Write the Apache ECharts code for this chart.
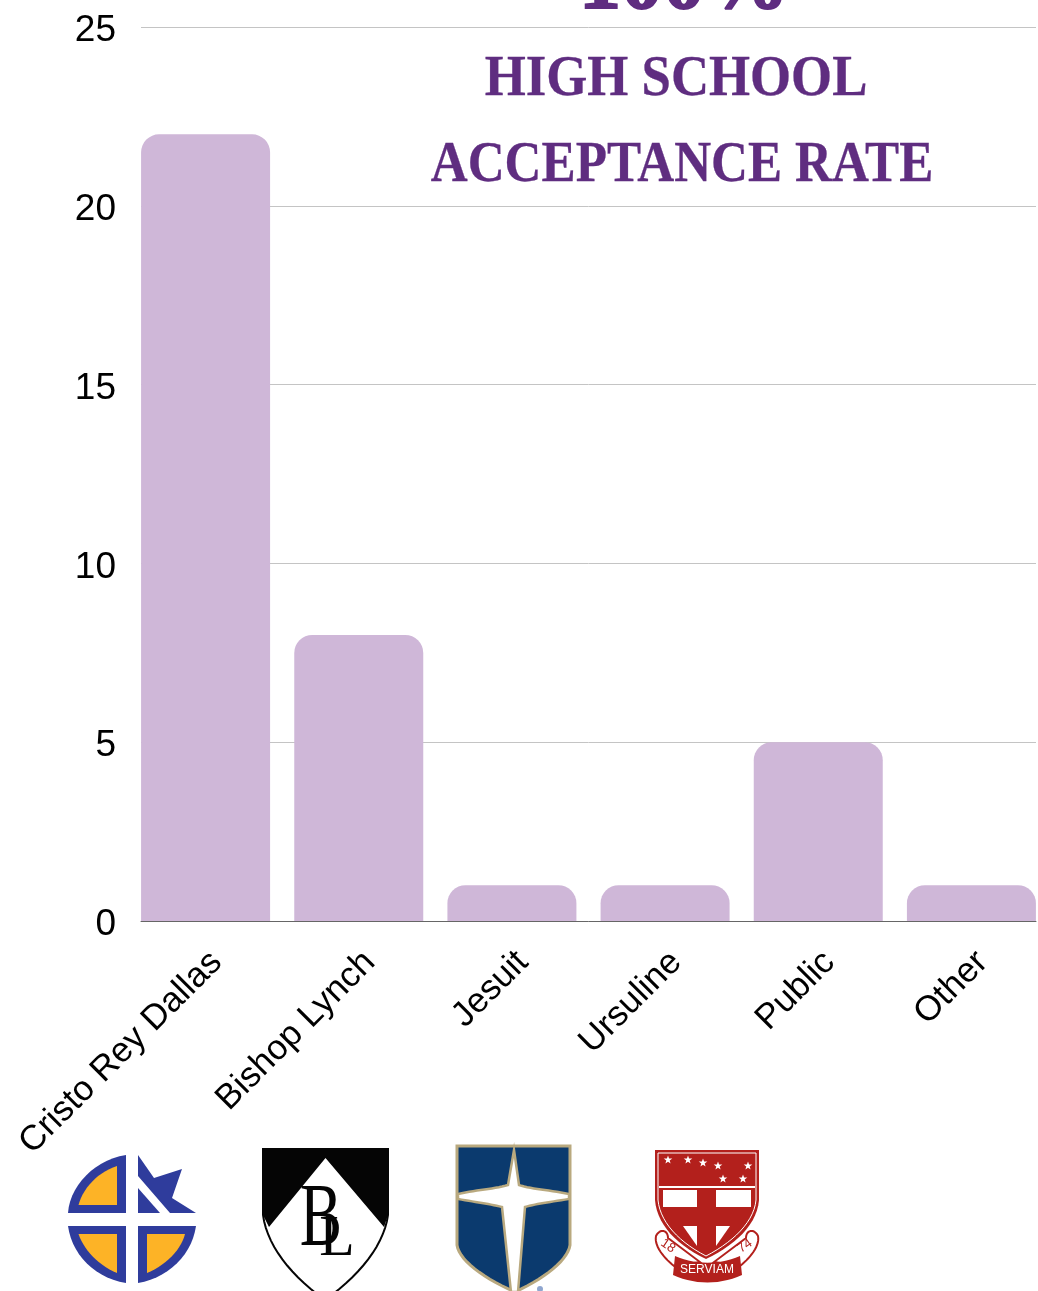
<!DOCTYPE html>
<html><head><meta charset="utf-8">
<style>html,body{margin:0;padding:0;background:#fff;overflow:hidden}#c{width:1080px;height:1291px}</style>
<script src="https://cdn.jsdelivr.net/npm/echarts@6/dist/echarts.min.js"></script>
</head><body><div id="c"></div>
<script>
const categories = ['Cristo Rey Dallas','Bishop Lynch','Jesuit','Ursuline','Public','Other'];
const students = [22,8,1,1,5,1];
const yMax = 25, yStep = 5;
const PURPLE = '#5f2d80', BLUE='#2f3c9c', GOLD='#fdb326', RED='#b3201c', NAVY='#0b3a6e', TAN='#b9a97f';

// Flattens a small M/L/C/Z outline to polygon points for the logo artwork.
function pts(d){
 const t=d.match(/[MLCZ]|-?[\d.]+/g); let i=0,out=[],cur=[0,0],cmd='';
 while(i<t.length){
  if(/[MLCZ]/.test(t[i])) cmd=t[i++];
  if(cmd==='Z') continue;
  if(cmd==='C'){
   const a=[+t[i],+t[i+1]],b=[+t[i+2],+t[i+3]],c=[+t[i+4],+t[i+5]]; i+=6;
   for(let k=1;k<=14;k++){const u=k/14,v=1-u;
    out.push([v*v*v*cur[0]+3*v*v*u*a[0]+3*v*u*u*b[0]+u*u*u*c[0], v*v*v*cur[1]+3*v*v*u*a[1]+3*v*u*u*b[1]+u*u*u*c[1]]);}
   cur=c;
  } else { cur=[+t[i],+t[i+1]]; i+=2; out.push(cur); }
 }
 return out;
}
function raw(d, fill, stroke, lw){ return {type:'polygon', shape:{points:pts(d)}, style:{fill, stroke:stroke||null, lineWidth:lw||0}, silent:true}; }
function star(cx,cy,r){ let s=''; for(let i=0;i<10;i++){const a=-Math.PI/2+i*Math.PI/5, q=i%2?r*0.4:r; s+=(i?'L':'M')+(cx+q*Math.cos(a)).toFixed(1)+' '+(cy+q*Math.sin(a)).toFixed(1);} return s+'Z'; }
function txt(t,x,y,size,fill,font,weight,rot,sx,bold){ return {type:'text', x, y, rotation:rot||0, scaleX:sx||1, style:{text:t, fontSize:size, fill, fontFamily:font, fontWeight:weight||'normal', textAlign:'center', textVerticalAlign:'middle', stroke:bold?fill:null, lineWidth:bold||0}, silent:true}; }

const SERIF = '"Liberation Serif", serif', SANS='"Liberation Sans", sans-serif';
const logos = [
 raw('M126 1155C95 1160 70 1185 68 1213L126 1213Z',BLUE),
 raw('M117 1166C98 1172 83 1188 78.5 1205L117 1205Z',GOLD),
 raw('M68 1226L126 1226L126 1283C95 1278 72 1255 68 1226Z',BLUE),
 raw('M78.5 1234L117 1234L117 1273C98 1265 84 1250 78.5 1234Z',GOLD),
 raw('M138 1226L196 1226C192 1255 168 1278 138 1283Z',BLUE),
 raw('M147 1234L185 1234C181 1250 166 1265 147 1273Z',GOLD),
 raw('M138 1155L154 1178L182 1169L172 1198L196 1213L170 1213L138 1176Z',BLUE),
 raw('M138 1188L160 1213L138 1213Z',BLUE),
 raw('M263 1149L388 1149L388 1215C384 1245 360 1275 325 1300C290 1275 267 1245 263 1215Z','#fff','#050505',2),
 raw('M263 1149L388 1149L388 1215L384 1227L325.5 1158L269 1227L263 1215Z','#050505'),
 txt('B',321,1221,88,'#050505',SERIF,'normal',0,0.72),
 txt('L',337,1240,58,'#050505',SERIF,'normal',0,1),
 raw('M457 1146L570 1146L570 1245C568 1260 545 1278 515 1292C483 1278 459 1260 457 1245Z',NAVY,TAN,3),
 raw('M514 1150L519 1185C530 1189 550 1190 569 1194L569 1199C550 1202 535 1204 525 1207L518 1292L511 1292L502 1207C490 1204 475 1202 458 1199L458 1194C475 1190 495 1189 508 1185Z','#fff',TAN,2.5),
 {type:'circle', shape:{cx:540,cy:1289,r:3}, style:{fill:'#8fa6cf'}, silent:true},
 raw('M655 1150L759 1150L759 1200C757 1225 735 1245 706 1259C677 1245 657 1225 655 1200Z',RED),
 raw('M658 1153L756 1153L756 1200C754 1222 733 1242 706 1256C679 1242 660 1222 658 1200Z',RED,'#fff',1),
 raw('M663 1190L697 1190L697 1207L663 1207Z','#fff'),
 raw('M716 1190L751 1190L751 1207L716 1207Z','#fff'),
 raw('M683 1226L697 1226L697 1246Z','#fff'),
 raw('M716 1226L730 1226L716 1246Z','#fff'),
 raw('M659 1186L755 1186L755 1188L659 1188Z','#fff'),
 raw('M656 1236C660 1228 668 1230 668 1238L700 1262L674 1266C664 1258 654 1246 656 1236Z','#fff',RED,2),
 raw('M758 1236C754 1228 746 1230 746 1238L714 1262L740 1266C750 1258 760 1246 758 1236Z','#fff',RED,2),
 raw('M675 1256C695 1265 720 1265 740 1256L742 1275C720 1285 695 1285 673 1275Z',RED),
 txt('SERVIAM',707,1270,12,'#fff',SANS),
 txt('18',668,1246,13,RED,SANS,'normal',-0.6),
 txt('74',745,1246,13,RED,SANS,'normal',0.6),
 ...[[668,1160],[688,1160],[703,1163],[718,1166],[748,1166],[723,1179],[743,1179]].map(s=>raw(star(s[0],s[1],4.5),'#fff'))
];

const titles = [
 txt('100%',684,-14,84,PURPLE,SERIF,'bold',0,1,2),
 txt('HIGH SCHOOL',676,80,58,PURPLE,SERIF,'bold',0,0.91,0.3),
 txt('ACCEPTANCE RATE',682,166,58,PURPLE,SERIF,'bold',0,0.882,0.3)
];

const chart = echarts.init(document.getElementById('c'), null, {renderer:'canvas'});
chart.setOption({
 animation:false,
 backgroundColor:'#fff',
 grid:[
  {left:141, top:27, width:895, height:894},
  {left:129, top:27, width:919, height:894},
  {left:140, top:31, width:919, height:894}
 ],
 xAxis:[
  {gridIndex:0,type:'category',data:categories,axisLabel:{show:false},axisTick:{show:false},axisLine:{show:true,lineStyle:{color:'#666',width:1}}},
  {gridIndex:1,type:'category',data:categories,show:false},
  {gridIndex:2,type:'category',data:categories,axisTick:{show:false},axisLine:{show:false},
   axisLabel:{rotate:45,margin:32,interval:0,fontSize:35,color:'#000',fontFamily:SANS}}
 ],
 yAxis:[
  {gridIndex:0,type:'value',min:0,max:yMax,interval:yStep,axisLine:{show:false},axisTick:{show:false},axisLabel:{show:false},
   splitLine:{lineStyle:{color:'#c4c4c4',width:1}}},
  {gridIndex:1,type:'value',min:0,max:yMax,interval:yStep,show:false},
  {gridIndex:2,type:'value',min:0,max:yMax,interval:yStep,axisLine:{show:false},axisTick:{show:false},splitLine:{show:false},
   axisLabel:{margin:24,fontSize:37,color:'#000',fontFamily:SANS}}
 ],
 series:[{type:'bar',xAxisIndex:1,yAxisIndex:1,data:students,barWidth:129,
  itemStyle:{color:'#cfb7d8',borderRadius:[18,18,0,0]},z:3}],
 graphic:{elements:[...titles,...logos]}
});
</script></body></html>
